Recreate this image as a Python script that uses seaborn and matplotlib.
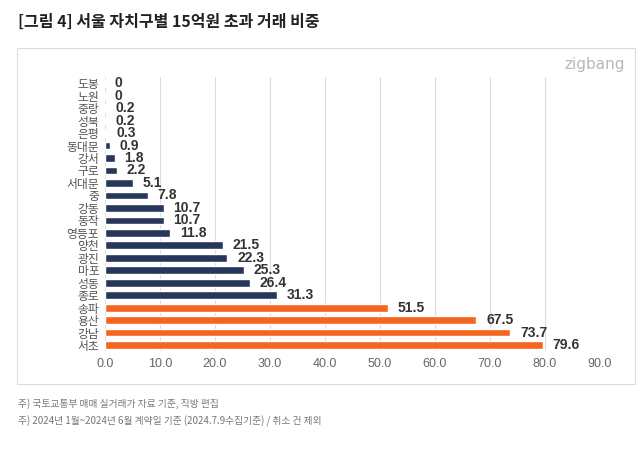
import pandas as pd
import matplotlib.pyplot as plt
import seaborn as sns
from matplotlib.patches import Rectangle

# data (%), top to bottom as in the chart
districts = ['도봉', '노원', '중랑', '성북', '은평', '동대문', '강서', '구로', '서대문', '중',
             '강동', '동작', '영등포', '양천', '광진', '마포', '성동', '종로', '송파', '용산', '강남', '서초']
shares = [0, 0, 0.2, 0.2, 0.3, 0.9, 1.8, 2.2, 5.1, 7.8,
          10.7, 10.7, 11.8, 21.5, 22.3, 25.3, 26.4, 31.3, 51.5, 67.5, 73.7, 79.6]
groups = ['other'] * 18 + ['top'] * 4
x_ticks = [0, 10, 20, 30, 40, 50, 60, 70, 80, 90]

df = pd.DataFrame({'district': districts, 'share': shares, 'group': groups})

sns.set_style('white')
plt.rcParams['font.family'] = ['Noto Sans CJK KR', 'DejaVu Sans']

fig = plt.figure(figsize=(6.43, 4.65), dpi=100)
ax = fig.add_axes([0.163, 0.2445, 0.77, 0.59])

palette = {'other': '#26375a', 'top': '#f4661f'}
sns.barplot(data=df, y='district', x='share', hue='group', palette=palette,
            saturation=1, dodge=False, width=0.62, legend=False, ax=ax, orient='h')

ax.set_xlim(0, 90)
ax.set_xticks(x_ticks)
ax.set_xticklabels([f'{t:.1f}' for t in x_ticks], color='#666666', fontsize=9,
                   family='Liberation Sans')
ax.tick_params(axis='y', labelsize=8.5, labelcolor='#555555', length=0, pad=4)
ax.tick_params(axis='x', length=0, pad=5)
ax.set_xlabel('')
ax.set_ylabel('')
ax.grid(axis='x', color='#dcdcdc', linewidth=0.8)
ax.set_axisbelow(True)
for s in ax.spines.values():
    s.set_visible(False)

# value labels
for i, v in enumerate(shares):
    lab = '0' if v == 0 else f'{v:.1f}'
    ax.text(v + 1.8, i, lab, va='center', ha='left', fontsize=10, fontweight='bold',
            color='#333333', family='Liberation Sans')

# outer box
fig.patches.append(Rectangle((17 / 643, 1 - 384 / 465), 618 / 643, 336 / 465,
                             transform=fig.transFigure, fill=False,
                             edgecolor='#dddddd', linewidth=0.8))

fig.text(18 / 643, 1 - 22 / 465, '[그림 4] 서울 자치구별 15억원 초과 거래 비중',
         fontsize=11.5, fontweight='bold', color='#222222', va='center')
fig.text(625 / 643, 1 - 64 / 465, 'zigbang', fontsize=11, color='#b8b8b8',
         ha='right', va='center', family='DejaVu Sans')
fig.text(18 / 643, 1 - 404 / 465, '주) 국토교통부 매매 실거래가 자료 기준, 직방 편집',
         fontsize=7, color='#777777', va='center')
fig.text(18 / 643, 1 - 421 / 465, '주) 2024년 1월~2024년 6월 계약일 기준 (2024.7.9수집기준) / 취소 건 제외',
         fontsize=7, color='#777777', va='center')

fig.savefig('out.png', dpi=100)
